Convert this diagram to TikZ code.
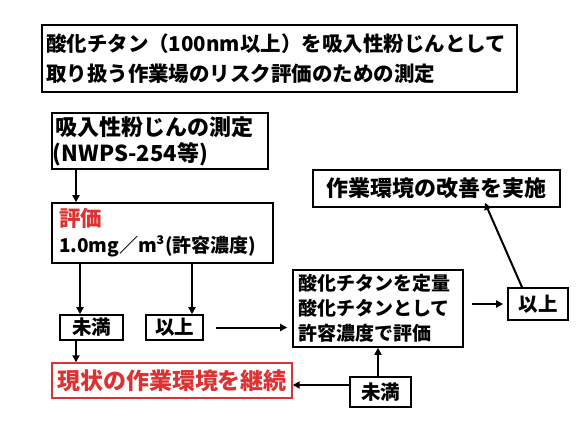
\documentclass[tikz,border=0pt]{standalone}
\usepackage{fontspec}
\setmainfont{Noto Sans CJK JP}
\usetikzlibrary{arrows.meta}
\definecolor{redtxt}{RGB}{220,50,50}
\tikzset{
  boxb/.style={draw=black, line width=1.6pt, rectangle, inner sep=0pt, font=\bfseries},
  arr/.style={-{Triangle[length=7pt,width=7pt]}, line width=2pt}
}
\begin{document}
\begin{tikzpicture}[x=1pt,y=-1pt]
\useasboundingbox[fill=white] (0,0) rectangle (579,429);
% title
\node[boxb, line width=2.2pt, minimum width=475pt, minimum height=67pt, text width=467pt, align=left, font=\bfseries\fontsize{20.5pt}{30pt}\selectfont] (title) at (279.5,58.5)
  {酸化チタン（100nm以上）を吸入性粉じんとして\\取り扱う作業場のリスク評価のための測定};
% measurement
\node[boxb, minimum width=216pt, minimum height=56pt, text width=208pt, align=left, font=\bfseries\fontsize{22pt}{26pt}\selectfont] (meas) at (160,141)
  {吸入性粉じんの測定\\\hspace*{-3pt}(NWPS-254等)};
% evaluation
\node[boxb, minimum width=221pt, minimum height=60pt, text width=207pt, align=left, font=\bfseries\fontsize{19pt}{26pt}\selectfont] (eval) at (162.5,233)
  {\textcolor{redtxt}{\fontsize{21.5pt}{26pt}\selectfont 評価}\\1.0mg／m³(許容濃度)};
% lt / ge
\node[boxb, minimum width=63pt, minimum height=25pt, font=\bfseries\fontsize{19.5pt}{22pt}\selectfont] (lt) at (91.5,327.5) {未満};
\node[boxb, minimum width=57pt, minimum height=25pt, font=\bfseries\fontsize{19.5pt}{22pt}\selectfont] (ge) at (174.5,327.5) {以上};
% middle
\node[boxb, minimum width=170pt, minimum height=77pt, text width=160pt, align=left, font=\bfseries\fontsize{19pt}{25pt}\selectfont] (mid) at (378,308.5)
  {酸化チタンを定量\\酸化チタンとして\\許容濃度で評価};
% right ge
\node[boxb, minimum width=60pt, minimum height=32pt, font=\bfseries\fontsize{19.5pt}{22pt}\selectfont] (ge2) at (538,304) {以上};
% improve
\node[boxb, minimum width=247pt, minimum height=37pt, font=\bfseries\fontsize{22pt}{26pt}\selectfont] (imp) at (436.5,188.5) {作業環境の改善を実施};
% red continue
\node[boxb, draw=redtxt, line width=1.4pt, text=redtxt, minimum width=240pt, minimum height=35pt, font=\bfseries\fontsize{23pt}{26pt}\selectfont] (cont) at (172,380.5) {現状の作業環境を継続};
% bottom lt
\node[boxb, minimum width=61pt, minimum height=30pt, font=\bfseries\fontsize{19.5pt}{22pt}\selectfont] (lt2) at (380.5,392) {未満};
% connectors
\draw[arr] (meas.south -| 76,0) -- (eval.north -| 76,0);
\draw[arr] (eval.south -| 80,0) -- (lt.north -| 80,0);
\draw[arr] (eval.south -| 192,0) -- (ge.north -| 192,0);
\draw[arr] ([xshift=12pt]ge.east) -- ([xshift=-5pt]mid.west |- ge.east);
\draw[arr] ([xshift=8pt]mid.east |- ge2.west) -- ([xshift=-4pt]ge2.west);
\draw[arr] (ge2.north -| 522,0) -- ([yshift=5pt]imp.south -| 485,0);
\draw[arr] (lt.south -| 76,0) -- (cont.north -| 76,0);
\draw[arr] (lt2.north -| 378,0) -- (mid.south -| 378,0);
\draw[arr] (lt2.west |- 0,385) -- (cont.east |- 0,385);
\end{tikzpicture}
\end{document}
